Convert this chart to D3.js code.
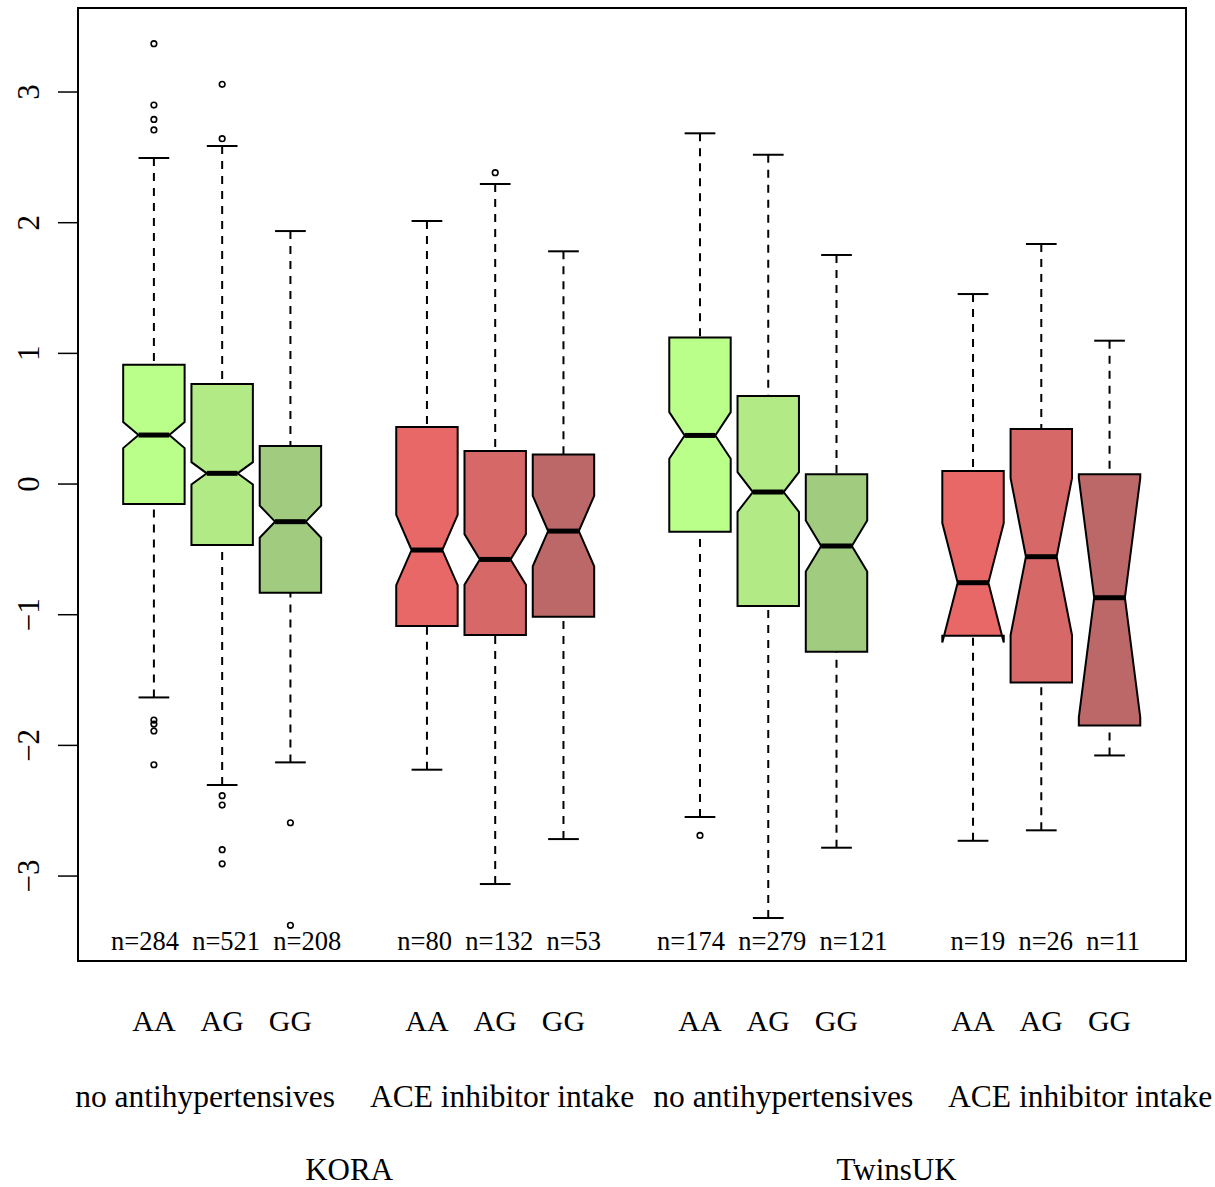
<!DOCTYPE html>
<html>
<head>
<meta charset="utf-8">
<script src="https://cdn.jsdelivr.net/npm/d3@7"></script>
<style>
	body { margin: 0; background: #fff; }
	svg text { font-family: "Liberation Serif", "Times New Roman", serif; fill: #000; }
</style>
</head>
<body>
<svg id="svg" width="1215" height="1187"></svg>
<script>
// Box positions (R style, gaps between groups)
var positions = [1, 2, 3, 5, 6, 7, 9, 10, 11, 13, 14, 15];
var genotypes = ["AA", "AG", "GG", "AA", "AG", "GG", "AA", "AG", "GG", "AA", "AG", "GG"];
var sampleSizes = [284, 521, 208, 80, 132, 53, 174, 279, 121, 19, 26, 11];

// five-number summaries
var whiskerLow  = [-1.633, -2.303, -2.130, -2.186, -3.061, -2.717, -2.548, -3.321, -2.783, -2.730, -2.650, -2.077];
var lowerHinge  = [-0.153, -0.467, -0.832, -1.087, -1.156, -1.015, -0.365, -0.934, -1.283, -1.161, -1.518, -1.847];
var medians     = [ 0.375,  0.082, -0.288, -0.505, -0.577, -0.360,  0.372, -0.061, -0.474, -0.755, -0.556, -0.870];
var upperHinge  = [ 0.913,  0.765,  0.291,  0.436,  0.253,  0.227,  1.122,  0.673,  0.074,  0.099,  0.421,  0.074];
var whiskerHigh = [ 2.495,  2.587,  1.936,  2.013,  2.296,  1.781,  2.684,  2.520,  1.753,  1.454,  1.837,  1.097];

var outliers = [
	[3.37, 2.90, 2.79, 2.71, -1.806, -1.837, -1.89, -2.148],
	[3.059, 2.643, -2.385, -2.457, -2.798, -2.906],
	[-2.592, -3.377],
	[],
	[2.383],
	[],
	[-2.689],
	[], [], [], [], []
];

var boxColors = ["#bbff8b", "#b2ea86", "#a1cb7f", "#e86767", "#d66868", "#bc6868",
	"#bbff8b", "#b2ea86", "#a1cb7f", "#e86767", "#d66868", "#bc6868"];

var groupCenters = [2, 6, 10, 14];
var treatmentLabels = ["no antihypertensives", "ACE inhibitor intake", "no antihypertensives", "ACE inhibitor intake"];
var treatmentPos = [1.75, 6.1, 10.22, 14.57];
var cohortLabels = ["KORA", "TwinsUK"];
var cohortPos = [3.86, 11.88];
var yTicks = [-3, -2, -1, 0, 1, 2, 3];

(function(){
	var svg = d3.select('#svg'),
		plotLeft = 78, plotRight = 1186, plotTop = 8, plotBottom = 961,
		boxWidth = 0.9;

	var x = d3.scaleLinear().domain([-0.112, 16.12]).range([plotLeft, plotRight]);
	var y = d3.scaleLinear().domain([-3.65, 3.643]).range([plotBottom, plotTop]);

	var boxes = positions.map(function(p, i){
		var iqr = upperHinge[i] - lowerHinge[i],
			notch = 1.58 * iqr / Math.sqrt(sampleSizes[i]);
		return {
			pos: p, n: sampleSizes[i], color: boxColors[i],
			lo: whiskerLow[i], q1: lowerHinge[i], med: medians[i], q3: upperHinge[i], hi: whiskerHigh[i],
			nLo: medians[i] - notch, nHi: medians[i] + notch,
			out: outliers[i]
		};
	});

	var halfW = function(d){ return x(d.pos + boxWidth / 2) - x(d.pos); };

	var g = svg.append('g');

	// whiskers (dashed), drawn from the extreme toward the hinge like R does
	['lo', 'hi'].forEach(function(k){
		var hinge = (k === 'lo') ? 'q1' : 'q3';
		g.selectAll('line.w' + k).data(boxes).enter().append('line')
			.attr('x1', function(d){ return x(d.pos); }).attr('x2', function(d){ return x(d.pos); })
			.attr('y1', function(d){ return y(d[k]); }).attr('y2', function(d){ return y(d[hinge]); })
			.style('stroke', '#000').style('stroke-width', 2).style('stroke-dasharray', '8,7');

		g.selectAll('line.cap' + k).data(boxes).enter().append('line')
			.attr('x1', function(d){ return x(d.pos) - halfW(d) / 2; })
			.attr('x2', function(d){ return x(d.pos) + halfW(d) / 2; })
			.attr('y1', function(d){ return y(d[k]); }).attr('y2', function(d){ return y(d[k]); })
			.style('stroke', '#000').style('stroke-width', 2);
	});

	// notched boxes
	g.selectAll('path.box').data(boxes).enter().append('path')
		.attr('d', function(d){
			var cx = x(d.pos), w = halfW(d);
			var pts = [
				[cx - w, y(d.q3)], [cx - w, y(d.nHi)], [cx - w / 2, y(d.med)], [cx - w, y(d.nLo)], [cx - w, y(d.q1)],
				[cx + w, y(d.q1)], [cx + w, y(d.nLo)], [cx + w / 2, y(d.med)], [cx + w, y(d.nHi)], [cx + w, y(d.q3)]
			];
			return 'M' + pts.join('L') + 'Z';
		})
		.style('fill', function(d){ return d.color; })
		.style('stroke', '#000').style('stroke-width', 2).style('stroke-linejoin', 'miter');

	// medians
	g.selectAll('line.med').data(boxes).enter().append('line')
		.attr('x1', function(d){ return x(d.pos) - halfW(d) / 2; })
		.attr('x2', function(d){ return x(d.pos) + halfW(d) / 2; })
		.attr('y1', function(d){ return y(d.med); }).attr('y2', function(d){ return y(d.med); })
		.style('stroke', '#000').style('stroke-width', 5);

	// outliers
	var outPts = [];
	boxes.forEach(function(b){ b.out.forEach(function(v){ outPts.push({pos: b.pos, v: v}); }); });
	g.selectAll('circle').data(outPts).enter().append('circle')
		.attr('cx', function(d){ return x(d.pos); })
		.attr('cy', function(d){ return y(d.v); })
		.attr('r', 2.8)
		.style('fill', 'none').style('stroke', '#000').style('stroke-width', 1.6);

	// sample sizes, one string per group
	var nGroups = groupCenters.map(function(c, gi){
		return sampleSizes.slice(gi * 3, gi * 3 + 3).map(function(n){ return 'n=' + n; }).join('  ');
	});
	svg.selectAll('text.n').data(nGroups).enter().append('text')
		.attr('x', function(d, i){ return x(groupCenters[i]) + 4; })
		.attr('y', 950)
		.attr('text-anchor', 'middle')
		.style('font-size', '26.5px')
		.style('white-space', 'pre')
		.text(function(d){ return d; });

	// frame
	svg.append('rect')
		.attr('x', plotLeft).attr('y', plotTop)
		.attr('width', plotRight - plotLeft).attr('height', plotBottom - plotTop)
		.style('fill', 'none').style('stroke', '#000').style('stroke-width', 2);

	// y axis
	var yAxis = svg.append('g');
	yAxis.selectAll('line').data(yTicks).enter().append('line')
		.attr('x1', plotLeft - 20).attr('x2', plotLeft)
		.attr('y1', function(d){ return y(d); }).attr('y2', function(d){ return y(d); })
		.style('stroke', '#000').style('stroke-width', 1.5);
	yAxis.selectAll('text').data(yTicks).enter().append('text')
		.attr('transform', function(d){ return 'translate(39,' + y(d) + ') rotate(-90)'; })
		.attr('text-anchor', 'middle')
		.style('font-size', '31px')
		.text(function(d){ return d < 0 ? '\u2212' + Math.abs(d) : d; });

	// bottom labels
	svg.selectAll('text.geno').data(genotypes).enter().append('text')
		.attr('x', function(d, i){ return x(positions[i]); })
		.attr('y', 1031)
		.attr('text-anchor', 'middle')
		.style('font-size', '30px')
		.text(function(d){ return d; });

	svg.selectAll('text.treat').data(treatmentLabels).enter().append('text')
		.attr('x', function(d, i){ return x(treatmentPos[i]); })
		.attr('y', 1107)
		.attr('text-anchor', 'middle')
		.style('font-size', '31.5px')
		.text(function(d){ return d; });

	svg.selectAll('text.cohort').data(cohortLabels).enter().append('text')
		.attr('x', function(d, i){ return x(cohortPos[i]); })
		.attr('y', 1180)
		.attr('text-anchor', 'middle')
		.style('font-size', '31px')
		.text(function(d){ return d; });
})();
</script>
</body>
</html>
